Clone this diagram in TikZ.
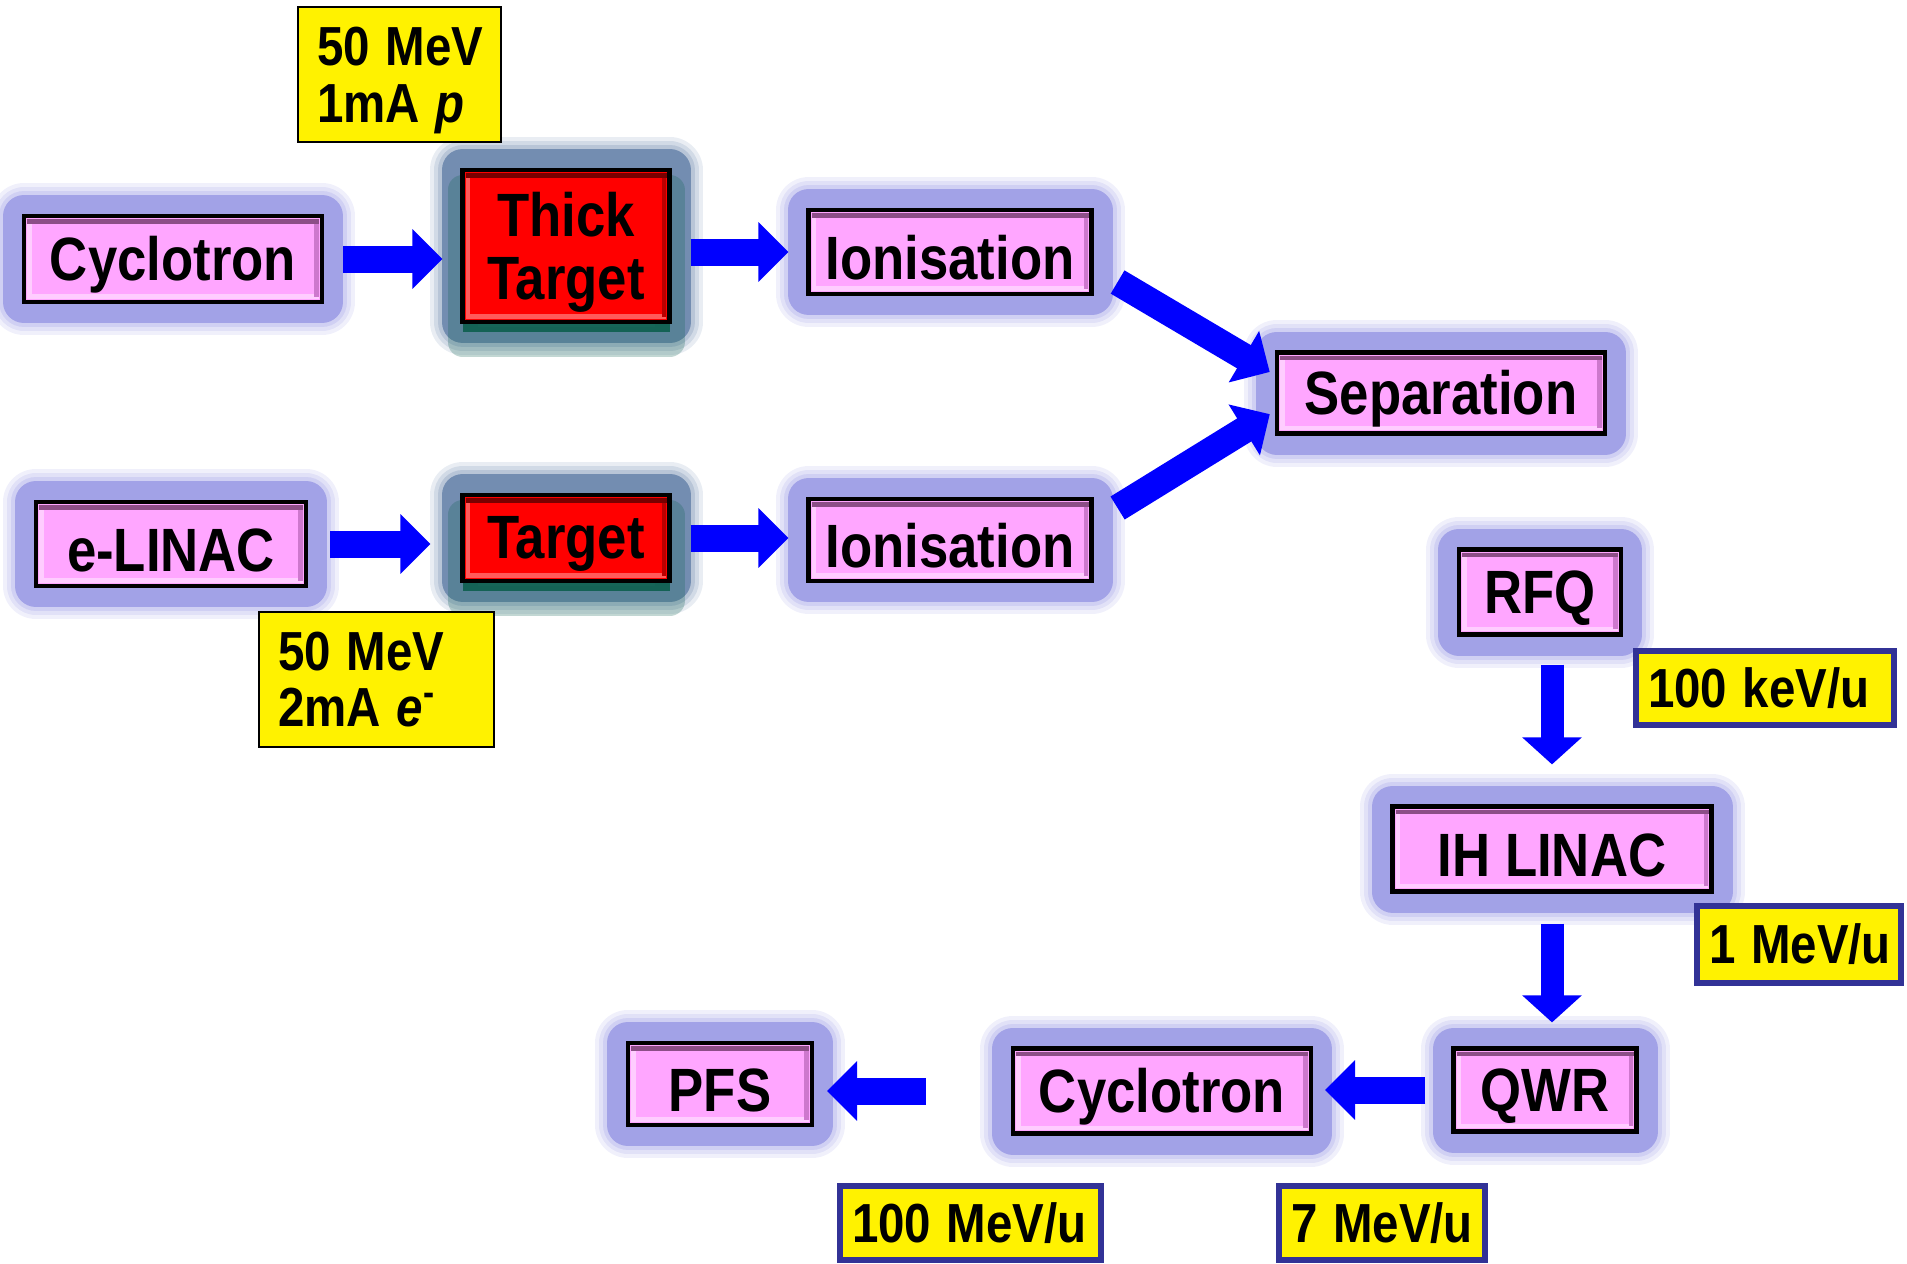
\documentclass[tikz,border=0pt]{standalone}
\usepackage{fontspec}
\setmainfont{Liberation Sans}
\usepackage{graphicx}
\usetikzlibrary{arrows.meta}
\definecolor{rosa}{RGB}{255,166,255}
\definecolor{rosaosc}{RGB}{140,78,135}
\definecolor{rosamed}{RGB}{205,120,205}
\definecolor{rosaclaro}{RGB}{255,205,255}
\definecolor{rojoosc}{RGB}{120,0,0}
\definecolor{rojomed}{RGB}{185,0,0}
\definecolor{rojoclaro}{RGB}{255,90,90}
\definecolor{halo}{RGB}{112,112,218}
\definecolor{halorojo}{RGB}{40,80,135}
\definecolor{sombraverde}{RGB}{12,95,78}
\definecolor{azulborde}{RGB}{50,50,150}
\newcommand{\estira}[1]{\scalebox{1}[1.16]{#1}}
\newcommand{\rotulo}[1]{\raisebox{-1.7pt}[\height][\depth]{\scalebox{1}[1.16]{#1}}}
\tikzset{
  brillo/.style={
    preaction={draw=#1, line width=0.66cm, line join=round, opacity=0.10},
    preaction={draw=#1, line width=0.58cm, line join=round, opacity=0.12},
    preaction={draw=#1, line width=0.50cm, line join=round, opacity=0.15},
    preaction={draw=#1, line width=0.42cm, line join=round, opacity=0.48}},
  bisel/.style n args={3}{path picture={
    \draw[#3, line width=1.4pt] ([shift={(0.055,0.055)}]path picture bounding box.south west)
      rectangle ([shift={(-0.055,-0.055)}]path picture bounding box.north east);
    \draw[#2, line width=1.4pt] ([shift={(-0.055,-0.055)}]path picture bounding box.north east)
      -- ([shift={(-0.055,0.055)}]path picture bounding box.south east);
    \draw[#1, line width=1.4pt] ([shift={(0.03,-0.055)}]path picture bounding box.north west)
      -- ([shift={(-0.03,-0.055)}]path picture bounding box.north east);}},
  caja/.style={draw=black, line width=1.2pt, inner sep=0pt, align=center,
    font=\fontsize{15}{18}\selectfont\bfseries},
  etapa/.style={caja, brillo=halo, fill=rosa, bisel={rosaosc}{rosamed}{rosaclaro}},
  blanco/.style={caja, brillo=halorojo, fill=red, bisel={rojoosc}{rojomed}{rojoclaro},
    preaction={draw=sombraverde, line width=0.3cm, line join=round, opacity=0.25,
      transform canvas={yshift=-0.2cm}},
    preaction={fill=sombraverde, opacity=0.9, transform canvas={yshift=-0.1cm}}},
  dato/.style={fill=yellow, draw=black, line width=0.8pt, inner xsep=0.19cm, inner ysep=0pt,
    align=left, font=\fontsize{13.5}{16}\selectfont\bfseries},
  datoazul/.style={dato, draw=azulborde, line width=1.6pt, inner xsep=0.12cm},
  flecha/.style={draw=blue, line width=0.27cm, -{Triangle[length=0.30cm, width=0.58cm]}},
  flechav/.style={draw=blue, line width=0.23cm, -{Triangle[length=0.27cm, width=0.58cm]}}
}

\begin{document}
\begin{tikzpicture}
  \useasboundingbox (0,0) rectangle (19.07,-12.63);
  % haz de protones
  \node[etapa, minimum width=2.98cm, minimum height=0.86cm] (cicloA) at (1.73,-2.59) {\rotulo{Cyclotron}};
  \node[blanco, minimum width=2.07cm, minimum height=1.52cm] (grueso) at (5.66,-2.46) {\rotulo{Thick}\\\rotulo{Target}};
  \node[etapa, minimum width=2.83cm, minimum height=0.84cm] (ionA) at (9.50,-2.52) {\rotulo{Ionisation}};
  \node[dato, text width=1.65cm, minimum height=1.35cm] (datoA) at (3.995,-0.745) {\rotulo{50 MeV}\\\rotulo{1mA \textit{p}}};
  % haz de electrones
  \node[etapa, minimum width=2.70cm, minimum height=0.84cm] (linac) at (1.71,-5.44) {\rotulo{e-LINAC}};
  \node[blanco, minimum width=2.07cm, minimum height=0.86cm] (blancoB) at (5.66,-5.38) {\rotulo{Target}};
  \node[etapa, minimum width=2.83cm, minimum height=0.82cm] (ionB) at (9.50,-5.40) {\rotulo{Ionisation}};
  \node[dato, text width=1.97cm, minimum height=1.35cm] (datoB) at (3.765,-6.795) {\estira{50 MeV}\\\estira{2mA \textit{e}\textsuperscript{-}}};
  % separador y post-aceleracion
  \node[etapa, minimum width=3.28cm, minimum height=0.81cm] (sep) at (14.41,-3.93) {\rotulo{Separation}};
  \node[etapa, minimum width=1.62cm, minimum height=0.85cm] (rfq) at (15.40,-5.92) {\rotulo{RFQ}};
  \node[etapa, minimum width=3.19cm, minimum height=0.85cm] (ih) at (15.52,-8.49) {\rotulo{IH LINAC}};
  \node[etapa, minimum width=1.83cm, minimum height=0.83cm] (qwr) at (15.45,-10.90) {\rotulo{QWR}};
  \node[etapa, minimum width=2.98cm, minimum height=0.85cm] (cicloB) at (11.62,-10.91) {\rotulo{Cyclotron}};
  \node[etapa, minimum width=1.84cm, minimum height=0.82cm] (pfs) at (7.20,-10.84) {\rotulo{PFS}};
  \node[datoazul, text width=2.34cm, minimum height=0.74cm] (datoC) at (17.65,-6.88) {\estira{100 keV/u}};
  \node[datoazul, text width=1.80cm, minimum height=0.77cm] (datoD) at (17.99,-9.445) {\estira{1 MeV/u}};
  \node[datoazul, text width=2.37cm, minimum height=0.74cm] (datoE) at (9.705,-12.23) {\estira{100 MeV/u}};
  \node[datoazul, text width=1.82cm, minimum height=0.74cm] (datoF) at (13.82,-12.23) {\estira{7 MeV/u}};
  % flechas
  \draw[flecha, shorten <=0.19cm, shorten >=0.18cm] (cicloA.east) -- (cicloA.east -| grueso.west);
  \draw[flecha, shorten <=0.19cm, shorten >=0.18cm] (grueso.east |- ionA.west) -- (ionA.west);
  \draw[flecha, shorten <=0.22cm, shorten >=0.30cm] (linac.east) -- (linac.east -| blancoB.west);
  \draw[flecha, shorten <=0.19cm, shorten >=0.18cm] (blancoB.east) -- (blancoB.east -| ionB.west);
  \draw[flecha, shorten >=0.06cm] ([shift={(0.24,-0.30)}]ionA.east) -- ([yshift=0.18cm]sep.west);
  \draw[flecha, shorten >=0.06cm] ([shift={(0.24,0.32)}]ionB.east) -- ([yshift=-0.18cm]sep.west);
  \draw[flechav, shorten <=0.28cm, shorten >=0.40cm] (ih.north |- rfq.south) -- (ih.north);
  \draw[flechav, shorten <=0.30cm, shorten >=0.24cm] (ih.south) -- (ih.south |- qwr.north);
  \draw[flecha, shorten <=0.26cm, shorten >=0.12cm] (qwr.west) -- (qwr.west -| cicloB.east);
  \draw[flecha, shorten <=0.85cm, shorten >=0.13cm] (cicloB.west) -- (cicloB.west -| pfs.east);
\end{tikzpicture}
\end{document}
